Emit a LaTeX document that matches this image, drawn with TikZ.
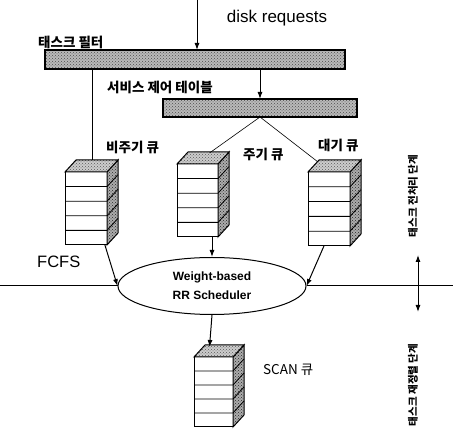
\documentclass[tikz,border=0pt]{standalone}
\usepackage{fontspec}
\setmainfont{Liberation Sans}
\newfontfamily\kr{Noto Sans CJK KR}
\usetikzlibrary{arrows.meta,patterns,calc,shapes.geometric}

\newcommand\qstack[5]{% name, x, y (front top-left), w, h
  \node[qfront, minimum width=#4pt, minimum height=#5pt, anchor=north west] (#1) at (#2,#3) {};
  \path[qside] (#1.north east) -- ++(11,-12) -- ++(0,#5) -- (#1.south east) -- cycle;
  \path[qtop] (#1.north west) -- ++(11,-12) -- ++(#4,0) -- (#1.north east) -- cycle;
  \foreach \i in {1,...,4}{%
    \draw[line width=0.8pt] ($(#1.north west)!\i/5!(#1.south west)$) -- ($(#1.north east)!\i/5!(#1.south east)$) -- ++(11,-12);
  }
}

\tikzset{
  bar/.style={draw, line width=1.2pt, preaction={fill=gray!55}, pattern=crosshatch dots, pattern color=black!70, inner sep=0pt, outer sep=0pt},
  qfront/.style={draw, line width=1pt, fill=white, inner sep=0pt, outer sep=0pt},
  qside/.style={draw, line width=1pt, preaction={fill=gray!65}, pattern=crosshatch dots, pattern color=black!85},
  qtop/.style={draw, line width=1pt, preaction={fill=gray!40}, pattern=crosshatch dots, pattern color=black!65},
  arr/.style={line width=1pt, -{Latex[length=7pt,width=5pt]}},
  thinline/.style={line width=0.6pt},
  plainline/.style={line width=1pt},
  kl/.style={font=\kr\bfseries\fontsize{13.5}{15}\selectfont, inner sep=0pt},
  kv/.style={font=\kr\bfseries\fontsize{10.5}{12}\selectfont, inner sep=0pt, rotate=90},
}

\begin{document}
\begin{tikzpicture}[x=1pt,y=-1pt]
\useasboundingbox (0,0) rectangle (453,438);

% bars
\node[bar, minimum width=300pt, minimum height=19pt] (filter) at (195,59.5) {};
\node[bar, minimum width=194pt, minimum height=18pt] (table) at (260,108) {};

% labels
\node[font=\fontsize{17}{20}\selectfont] (dr) at (277,18) {disk requests};
\node[kl, anchor=west] (lfilter) at (38,42) {태스크 필터};
\node[kl, anchor=west] (ltable) at (107,87) {서비스 제어 테이블};
\node[kl, anchor=west] (l1) at (106,147) {비주기 큐};
\node[kl, anchor=west] (l2) at (243,154) {주기 큐};
\node[kl, anchor=west] (l3) at (318,145) {대기 큐};
\node[kl, anchor=west, font=\kr\fontsize{13.5}{15}\selectfont] (l4) at (263,370) {SCAN 큐};
\node[anchor=west, font=\fontsize{16.5}{18}\selectfont, inner sep=0pt] (fcfs) at (37,262) {FCFS};
\node[kv] (v1) at (413,196) {태스크 전처리 단계};
\node[kv] (v2) at (413,385) {태스크 재정렬 단계};

% queues
\qstack{q1}{65}{172}{42}{73}
\qstack{q2}{177}{164}{41}{73}
\qstack{q3}{308}{172}{42}{74}
\qstack{q4}{194}{357}{39}{70}

% scheduler
\node[draw, ellipse, line width=1pt, fill=white, minimum width=188pt, minimum height=57pt, inner sep=0pt, align=center, font=\bfseries\fontsize{12}{19}\selectfont] (sched) at (212,286) {Weight-based\\RR Scheduler};

% connectors
\coordinate (src) at (197,0);
\draw[arr] (src) -- (src |- filter.north);
\draw[arr] (filter.south -| table.north) -- (table.north);
\coordinate (q1in) at ($(q1.north)+(6,-12)$);
\draw[plainline] (filter.south -| q1in) -- (q1in);
\coordinate (q2in) at ($(q2.north)+(12,-11)$);
\coordinate (q3in) at ($(q3.north)+(-11,-10)$);
\draw[thinline] (q2in) -- (table.south) -- (q3in);

\coordinate (q1out) at ($(q1.south west)!0.95!(q1.south east)$);
\draw[arr] (q1out) -- (sched.west);
\draw[arr] (q2.south -| sched.north) -- (sched.north);
\coordinate (q3out) at ($(q3.south west)!0.38!(q3.south east)$);
\draw[arr] (q3out) -- (sched.east);
\coordinate (q4in) at ($(q4.north)+(-4,-10)$);
\draw[arr] (sched.south) -- (q4in);

\coordinate (hl) at (0,286);
\coordinate (hr) at (453,286);
\draw[plainline] (hl) -- (sched.west);
\draw[plainline] (sched.east) -- (hr);

\coordinate (da1) at (418,255);
\coordinate (da2) at (418,312);
\draw[line width=1pt, {Latex[length=7pt,width=5pt]}-{Latex[length=7pt,width=5pt]}] (da1) -- (da2);
\end{tikzpicture}
\end{document}
